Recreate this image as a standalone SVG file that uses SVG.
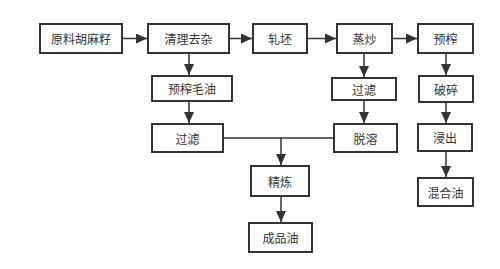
<svg xmlns="http://www.w3.org/2000/svg" width="500" height="269" viewBox="0 0 500 269">
<defs>
<style>
.b{fill:#fff;stroke:#333;stroke-width:2}
.t{font-family:"Noto Sans CJK SC","Noto Sans",sans-serif;font-size:12px;fill:#333;text-anchor:middle;dominant-baseline:central}
.c{fill:none;stroke:#333;stroke-width:1.5}
</style>
<marker id="a" markerUnits="userSpaceOnUse" markerWidth="12" markerHeight="10" refX="11" refY="5" orient="auto">
<path d="M0,0 L11,5 L0,10 Z" fill="#333"/>
</marker>
</defs>
<rect width="500" height="269" fill="#fff"/>
<g id="connectors">
<path class="c" d="M122,38.5 H147" marker-end="url(#a)"/>
<path class="c" d="M229,38.5 H252" marker-end="url(#a)"/>
<path class="c" d="M307,38.5 H336" marker-end="url(#a)"/>
<path class="c" d="M392,38.5 H417" marker-end="url(#a)"/>
<path class="c" d="M189,53 V75" marker-end="url(#a)"/>
<path class="c" d="M189,101 V123" marker-end="url(#a)"/>
<path class="c" d="M364,53 V77" marker-end="url(#a)"/>
<path class="c" d="M364,100 V123" marker-end="url(#a)"/>
<path class="c" d="M446,53 V75" marker-end="url(#a)"/>
<path class="c" d="M446,102 V123" marker-end="url(#a)"/>
<path class="c" d="M446,151 V177" marker-end="url(#a)"/>
<path class="c" d="M223,138 H334"/>
<path class="c" d="M281,138 V165" marker-end="url(#a)"/>
<path class="c" d="M281,196 V222" marker-end="url(#a)"/>
</g>
<g id="n1"><rect class="b" x="40" y="24" width="82" height="29"/><text class="t" x="81" y="38.5">原料胡麻籽</text></g>
<g id="n2"><rect class="b" x="148" y="24" width="81" height="29"/><text class="t" x="188.5" y="38.5">清理去杂</text></g>
<g id="n3"><rect class="b" x="253" y="24" width="54" height="29"/><text class="t" x="280" y="38.5">轧坯</text></g>
<g id="n4"><rect class="b" x="337" y="24" width="55" height="29"/><text class="t" x="364.5" y="38.5">蒸炒</text></g>
<g id="n5"><rect class="b" x="418" y="24" width="55" height="29"/><text class="t" x="445.5" y="38.5">预榨</text></g>
<g id="n6"><rect class="b" x="152" y="76" width="80" height="25"/><text class="t" x="192" y="88.5">预榨毛油</text></g>
<g id="n7"><rect class="b" x="152" y="124" width="71" height="28"/><text class="t" x="187.5" y="138">过滤</text></g>
<g id="n8"><rect class="b" x="332" y="78" width="64" height="22"/><text class="t" x="364" y="89">过滤</text></g>
<g id="n9"><rect class="b" x="334" y="124" width="63" height="28"/><text class="t" x="365.5" y="138">脱溶</text></g>
<g id="n10"><rect class="b" x="419" y="76" width="54" height="26"/><text class="t" x="446" y="89">破碎</text></g>
<g id="n11"><rect class="b" x="418" y="124" width="54" height="27"/><text class="t" x="445" y="137.5">浸出</text></g>
<g id="n12"><rect class="b" x="418" y="178" width="55" height="28"/><text class="t" x="445.5" y="192">混合油</text></g>
<g id="n13"><rect class="b" x="251" y="166" width="58" height="30"/><text class="t" x="280" y="181">精炼</text></g>
<g id="n14"><rect class="b" x="249" y="223" width="63" height="29"/><text class="t" x="280.5" y="237.5">成品油</text></g>
</svg>
